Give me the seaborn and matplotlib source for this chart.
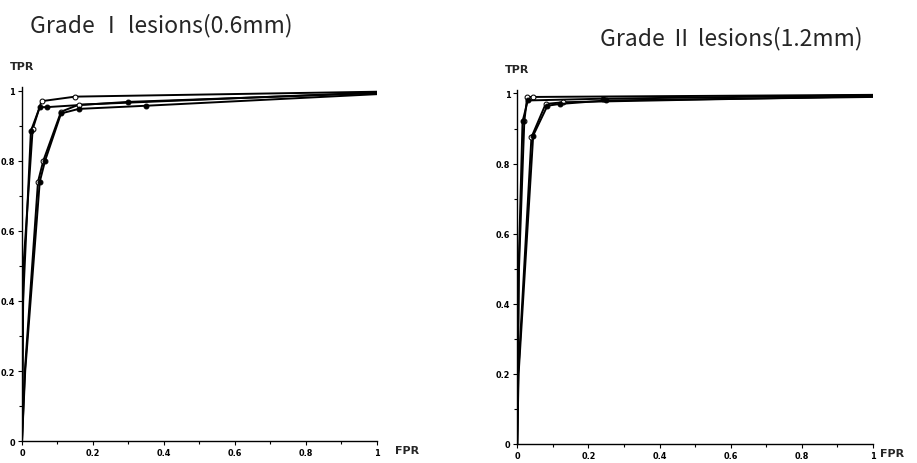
"""
ROC curves for grade I and grade II lesions, redrawn from a scanned figure.
"""
import numpy as np
import pandas as pd
import seaborn as sns
import matplotlib.pyplot as plt

# values; four curves per panel
grade1_title = "Grade Ⅰ lesions(0.6mm)"
grade2_title = "Grade Ⅱ lesions(1.2mm)"
tick_labels = ["0", "0.2", "0.4", "0.6", "0.8", "1"]

g1_a_fpr = [0.0, 0.004, 0.03, 0.055, 0.15, 1.0]
g1_a_tpr = [0.0, 0.5, 0.89, 0.97, 0.983, 0.997]
g1_b_fpr = [0.0, 0.003, 0.025, 0.05, 0.07, 0.30, 1.0]
g1_b_tpr = [0.0, 0.4, 0.885, 0.953, 0.953, 0.968, 0.993]
g1_c_fpr = [0.0, 0.008, 0.045, 0.06, 0.11, 0.16, 1.0]
g1_c_tpr = [0.0, 0.2, 0.74, 0.80, 0.94, 0.96, 0.995]
g1_d_fpr = [0.0, 0.009, 0.05, 0.065, 0.11, 0.16, 0.35, 1.0]
g1_d_tpr = [0.0, 0.2, 0.74, 0.80, 0.935, 0.948, 0.957, 0.99]

g2_a_fpr = [0.0, 0.005, 0.02, 0.028, 0.045, 1.0]
g2_a_tpr = [0.0, 0.5, 0.92, 0.99, 0.99, 0.996]
g2_b_fpr = [0.0, 0.004, 0.015, 0.03, 0.24, 1.0]
g2_b_tpr = [0.0, 0.5, 0.92, 0.98, 0.985, 0.995]
g2_c_fpr = [0.0, 0.003, 0.04, 0.08, 0.13, 1.0]
g2_c_tpr = [0.0, 0.2, 0.875, 0.97, 0.975, 0.992]
g2_d_fpr = [0.0, 0.004, 0.045, 0.085, 0.12, 0.25, 1.0]
g2_d_tpr = [0.0, 0.2, 0.88, 0.965, 0.97, 0.98, 0.99]

open_marker = [True, False, True, False]

sns.set_style("white")
plt.rcParams["font.family"] = ["DejaVu Sans"]

fig = plt.figure(figsize=(9.17, 4.64), dpi=100)
ax1 = fig.add_axes([0.024, 0.047, 0.387, 0.763])
ax2 = fig.add_axes([0.564, 0.041, 0.388, 0.763])

panels = [
    (ax1, 1.05, [(g1_a_fpr, g1_a_tpr), (g1_b_fpr, g1_b_tpr),
                 (g1_c_fpr, g1_c_tpr), (g1_d_fpr, g1_d_tpr)]),
    (ax2, 1.02, [(g2_a_fpr, g2_a_tpr), (g2_b_fpr, g2_b_tpr),
                 (g2_c_fpr, g2_c_tpr), (g2_d_fpr, g2_d_tpr)]),
]

for ax, fpr_x, curves in panels:
    for (fpr, tpr), hollow in zip(curves, open_marker):
        df = pd.DataFrame({"FPR": fpr, "TPR": tpr})
        sns.lineplot(data=df, x="FPR", y="TPR", ax=ax, sort=False,
                     color="black", linewidth=1.4, marker="o", markersize=3.5,
                     markerfacecolor="white" if hollow else "black",
                     markeredgecolor="black", markevery=list(range(2, len(fpr) - 1)))

    ax.set_xlim(0, 1)
    ax.set_ylim(0, 1.01)
    ax.set_xticks(np.arange(0, 1.01, 0.2))
    ax.set_yticks(np.arange(0, 1.01, 0.2))
    ax.set_xticks(np.arange(0, 1.01, 0.1), minor=True)
    ax.set_yticks(np.arange(0, 1.01, 0.1), minor=True)
    ax.set_xticklabels(tick_labels, fontsize=6.5, fontweight="bold", fontstretch="condensed")
    ax.set_yticklabels(tick_labels, fontsize=6.5, fontweight="bold", fontstretch="condensed")
    ax.tick_params(which="both", direction="out", length=3, width=0.8,
                   bottom=True, left=True, pad=2, colors="black")
    ax.tick_params(which="minor", length=2)
    ax.set_xlabel("")
    ax.set_ylabel("")
    sns.despine(ax=ax)
    for side in ["left", "bottom"]:
        ax.spines[side].set_color("black")
        ax.spines[side].set_linewidth(1.0)
    ax.text(-0.034, 1.06, "TPR", transform=ax.transAxes, fontsize=8,
            fontweight="bold", ha="left", va="center")
    ax.text(fpr_x, -0.025, "FPR", transform=ax.transAxes, fontsize=8,
            fontweight="bold", ha="left", va="center")

fig.text(0.033, 0.945, grade1_title, fontsize=16.5, fontweight=500, ha="left",
         va="center", family=["Noto Sans CJK KR", "DejaVu Sans"])
fig.text(0.654, 0.916, grade2_title, fontsize=16.5, fontweight=500, ha="left",
         va="center", family=["Noto Sans CJK KR", "DejaVu Sans"])

fig.savefig("out.png", dpi=100)
